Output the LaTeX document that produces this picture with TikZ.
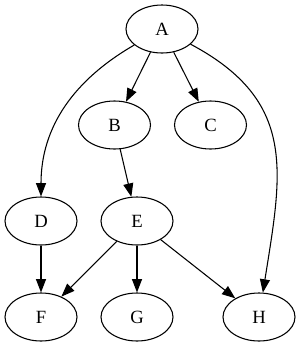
\documentclass[tikz,border=0pt]{standalone}
\usepackage{fontspec}
\setmainfont{Liberation Serif}
\usetikzlibrary{arrows.meta,shapes.geometric}

\begin{document}
\begin{tikzpicture}[x=0.75pt,y=-0.75pt,
    vert/.style={draw,ellipse,line width=0.8pt,minimum width=54pt,minimum height=36pt,inner sep=0pt,font=\fontsize{14pt}{16pt}\selectfont},
    edge/.style={line width=0.8pt,-{Triangle[length=10pt,width=7.5pt]}}]
  \useasboundingbox (0,0) rectangle (300,347);
  \foreach \n/\x/\y in {A/162/29,B/114.5/125,C/210.5/125,D/41/221,E/137/221,F/41/317,G/137/317,H/259/317}{
    \node[vert] (\n) at (\x,\y) {\n};
  }
  \foreach \s/\t in {A/B,A/C,B/E,D/F,E/F,E/G,E/H}{\draw[edge] (\s) -- (\t);}
  \draw[edge] (A) to[out=210,in=90] (D);
  \draw[edge] (A) to[out=332,in=81,looseness=1.2] (H);
\end{tikzpicture}
\end{document}
